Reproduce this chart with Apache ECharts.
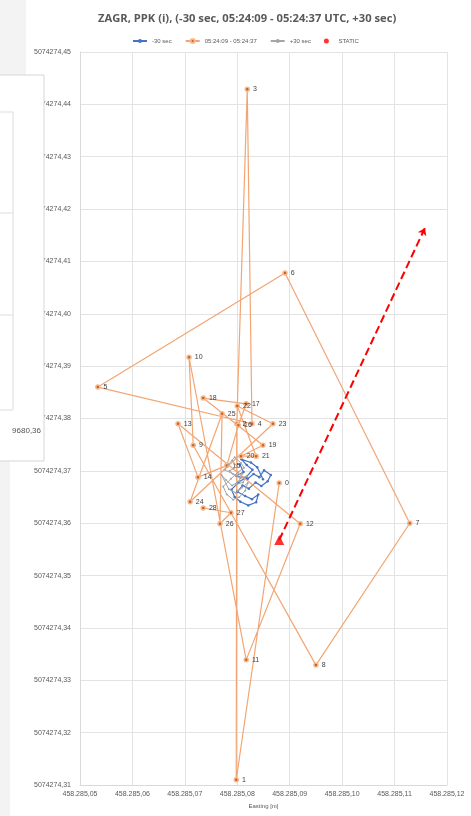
<!DOCTYPE html>
<html>
<head>
<meta charset="utf-8">
<script src="https://cdn.jsdelivr.net/npm/echarts@6/dist/echarts.min.js"></script>
<style>
  html, body { margin: 0; padding: 0; background: #fff; }
  #main { width: 471px; height: 816px; }
</style>
</head>
<body>
<div id="main"></div>
<script>
// -30 sec (before the interval)
var before = [
    [458285.0805, 5074274.3712], [458285.0812, 5074274.3698], [458285.0798, 5074274.3690],
    [458285.0820, 5074274.3685], [458285.0831, 5074274.3694], [458285.0842, 5074274.3688],
    [458285.0851, 5074274.3701], [458285.0864, 5074274.3692], [458285.0858, 5074274.3680],
    [458285.0846, 5074274.3671], [458285.0835, 5074274.3678], [458285.0822, 5074274.3666],
    [458285.0810, 5074274.3672], [458285.0800, 5074274.3660], [458285.0815, 5074274.3652],
    [458285.0828, 5074274.3646], [458285.0840, 5074274.3655], [458285.0836, 5074274.3640],
    [458285.0821, 5074274.3634], [458285.0806, 5074274.3641], [458285.0795, 5074274.3650],
    [458285.0789, 5074274.3664], [458285.0802, 5074274.3678], [458285.0817, 5074274.3688],
    [458285.0829, 5074274.3702], [458285.0818, 5074274.3711], [458285.0808, 5074274.3722],
    [458285.0826, 5074274.3716], [458285.0838, 5074274.3707], [458285.0849, 5074274.3684]
];
// 05:24:09 - 05:24:37, one point per second (0..28)
var track = [
    [458285.0880, 5074274.3677], // 0
    [458285.0798, 5074274.3110], // 1
    [458285.0799, 5074274.3790], // 2
    [458285.0819, 5074274.4429], // 3
    [458285.0828, 5074274.3790], // 4
    [458285.0534, 5074274.3860], // 5
    [458285.0891, 5074274.4078], // 6
    [458285.1129, 5074274.3600], // 7
    [458285.0950, 5074274.3329], // 8
    [458285.0716, 5074274.3749], // 9
    [458285.0708, 5074274.3917], // 10
    [458285.0817, 5074274.3339], // 11
    [458285.0920, 5074274.3599], // 12
    [458285.0687, 5074274.3790], // 13
    [458285.0725, 5074274.3688], // 14
    [458285.0780, 5074274.3710], // 15
    [458285.0802, 5074274.3787], // 16
    [458285.0817, 5074274.3828], // 17
    [458285.0735, 5074274.3839], // 18
    [458285.0849, 5074274.3749], // 19
    [458285.0807, 5074274.3728], // 20
    [458285.0836, 5074274.3728], // 21
    [458285.0800, 5074274.3824], // 22
    [458285.0868, 5074274.3790], // 23
    [458285.0710, 5074274.3641], // 24
    [458285.0771, 5074274.3809], // 25
    [458285.0767, 5074274.3599], // 26
    [458285.0788, 5074274.3620], // 27
    [458285.0735, 5074274.3629]  // 28
];
// +30 sec (after the interval)
var after = [
    [458285.0790, 5074274.3720], [458285.0800, 5074274.3708], [458285.0785, 5074274.3700],
    [458285.0797, 5074274.3690], [458285.0810, 5074274.3695], [458285.0803, 5074274.3680],
    [458285.0790, 5074274.3672], [458285.0778, 5074274.3683], [458285.0770, 5074274.3692],
    [458285.0784, 5074274.3665], [458285.0797, 5074274.3658], [458285.0809, 5074274.3668],
    [458285.0820, 5074274.3677], [458285.0815, 5074274.3662], [458285.0804, 5074274.3650],
    [458285.0792, 5074274.3645], [458285.0780, 5074274.3655], [458285.0773, 5074274.3670],
    [458285.0788, 5074274.3685], [458285.0802, 5074274.3698], [458285.0813, 5074274.3706],
    [458285.0807, 5074274.3715], [458285.0795, 5074274.3726], [458285.0783, 5074274.3712],
    [458285.0776, 5074274.3702], [458285.0792, 5074274.3694], [458285.0806, 5074274.3686],
    [458285.0818, 5074274.3690], [458285.0811, 5074274.3678], [458285.0798, 5074274.3674]
];
// static solution and arrow end
var staticPt = [[458285.0880, 5074274.3568]];
var arrowEnd = [458285.1158, 5074274.4164];

var seriesNames = ['-30 sec', '05:24:09 - 05:24:37', '+30 sec', 'STATIC'];

function fmtX(v) {
    var s = v.toFixed(2).split('.');
    return s[0].slice(0, 3) + '.' + s[0].slice(3) + ',' + s[1];
}
function fmtY(v) {
    return v.toFixed(2).replace('.', ',');
}

var myChart = echarts.init(document.getElementById('main'));
option = {
    backgroundColor: '#fff',
    animation: false,
    title: {
        text: 'ZAGR, PPK (i), (-30 sec, 05:24:09 - 05:24:37 UTC, +30 sec)',
        left: 93,
        top: 8,
        textStyle: { fontSize: 11.2, fontWeight: 'bold', color: '#595959', fontFamily: 'Open Sans' }
    },
    legend: {
        data: [seriesNames[0], seriesNames[1], seriesNames[2], { name: seriesNames[3], icon: 'circle' }],
        top: 33,
        left: 127,
        itemWidth: 14,
        itemHeight: 5,
        itemGap: 13,
        textStyle: { fontSize: 6, color: '#595959' }
    },
    grid: { left: 80, right: 24, top: 52, bottom: 31 },
    xAxis: {
        type: 'value',
        min: 458285.05,
        max: 458285.12,
        interval: 0.01,
        name: 'Easting [m]',
        nameLocation: 'middle',
        nameGap: 17,
        nameTextStyle: { fontSize: 6, color: '#595959' },
        axisLine: { show: true, lineStyle: { color: '#D9D9D9' } },
        axisTick: { show: false },
        axisLabel: { fontSize: 7, color: '#595959', formatter: fmtX, margin: 6 },
        splitLine: { lineStyle: { color: '#E3E3E3' } }
    },
    yAxis: {
        type: 'value',
        min: 5074274.31,
        max: 5074274.45,
        interval: 0.01,
        name: 'Northing [m]',
        nameLocation: 'middle',
        nameGap: 62,
        nameTextStyle: { fontSize: 6, color: '#595959' },
        axisLine: { show: true, lineStyle: { color: '#D9D9D9' } },
        axisTick: { show: false },
        axisLabel: { fontSize: 7, color: '#595959', formatter: fmtY, margin: 9 },
        splitLine: { lineStyle: { color: '#E3E3E3' } }
    },
    series: [
        {
            name: seriesNames[0],
            type: 'line',
            data: before,
            symbol: 'circle',
            symbolSize: 2.5,
            lineStyle: { color: '#4472C4', width: 1.2 },
            itemStyle: { color: '#4472C4' }
        },
        {
            name: seriesNames[1],
            type: 'line',
            data: track,
            symbol: 'circle',
            symbolSize: 4,
            lineStyle: { color: '#F2A572', width: 1.2 },
            itemStyle: { color: '#C8621E', borderColor: '#F6B88E', borderWidth: 1.5 },
            label: {
                show: true,
                position: 'right',
                distance: 3,
                fontSize: 7,
                color: '#404040',
                formatter: function (p) { return p.dataIndex; }
            },
            z: 3
        },
        {
            name: seriesNames[2],
            type: 'line',
            data: after,
            symbol: 'circle',
            symbolSize: 2,
            lineStyle: { color: '#A5A5A5', width: 1 },
            itemStyle: { color: '#A5A5A5' },
            z: 4
        },
        {
            name: seriesNames[3],
            type: 'scatter',
            data: staticPt,
            symbol: 'triangle',
            symbolSize: 10,
            itemStyle: { color: '#FF0000' },
            z: 5,
            markLine: {
                silent: true,
                symbol: ['none', 'arrow'],
                symbolSize: 7,
                label: { show: false },
                lineStyle: { color: '#FF0000', type: 'dashed', width: 2 },
                data: [[{ coord: staticPt[0] }, { coord: arrowEnd }]]
            }
        }
    ],
    graphic: [
        { type: 'rect', z: 100, shape: { x: 0, y: 0, width: 10, height: 816 }, style: { fill: '#F3F3F3' } },
        { type: 'rect', z: 100, shape: { x: 0, y: 0, width: 26, height: 76 }, style: { fill: '#F3F3F3' } },
        { type: 'rect', z: 101, shape: { x: -1, y: 75, width: 45, height: 386 }, style: { fill: '#fff', stroke: '#D6D6D6', lineWidth: 1 } },
        { type: 'rect', z: 102, shape: { x: -1, y: 112, width: 14, height: 298 }, style: { fill: 'none', stroke: '#DDDDDD', lineWidth: 1 } },
        { type: 'line', z: 102, shape: { x1: 0, y1: 213, x2: 13, y2: 213 }, style: { stroke: '#DDDDDD', lineWidth: 1 } },
        { type: 'line', z: 102, shape: { x1: 0, y1: 315, x2: 13, y2: 315 }, style: { stroke: '#DDDDDD', lineWidth: 1 } },
        { type: 'text', z: 103, x: 41, y: 431, style: { text: '9680,36', fill: '#555', fontSize: 8, align: 'right', verticalAlign: 'middle' } }
    ]
};
myChart.setOption(option);
</script>
</body>
</html>
